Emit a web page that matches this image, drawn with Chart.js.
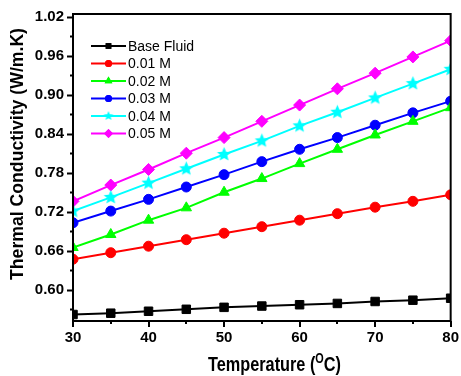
<!DOCTYPE html>
<html>
<head>
<meta charset="utf-8">
<script src="https://cdn.jsdelivr.net/npm/chart.js@4.4.0/dist/chart.umd.min.js"></script>
<style>
html,body{margin:0;padding:0;background:#fff;}
</style>
</head>
<body>
<canvas id="myChart" width="461" height="376"></canvas>
<script>
// temperature (C) on x, thermal conductivity (W/m.K) on y
const temps = [30, 35, 40, 45, 50, 55, 60, 65, 70, 75, 80];
const baseFluid = [0.562, 0.564, 0.567, 0.570, 0.573, 0.575, 0.577, 0.579, 0.582, 0.584, 0.587];
const m001 = [0.647, 0.657, 0.667, 0.677, 0.687, 0.697, 0.707, 0.717, 0.727, 0.736, 0.746];
const m002 = [0.665, 0.685, 0.707, 0.726, 0.750, 0.771, 0.794, 0.816, 0.838, 0.859, 0.880];
const m003 = [0.703, 0.721, 0.739, 0.758, 0.777, 0.797, 0.816, 0.834, 0.853, 0.872, 0.890];
const m004 = [0.721, 0.742, 0.764, 0.786, 0.808, 0.829, 0.852, 0.873, 0.895, 0.917, 0.939];
const m005 = [0.736, 0.761, 0.785, 0.810, 0.834, 0.859, 0.884, 0.909, 0.933, 0.958, 0.983];
const seriesNames = ['Base Fluid', '0.01 M', '0.02 M', '0.03 M', '0.04 M', '0.05 M'];

const yTicks = [0.57, 0.60, 0.63, 0.66, 0.69, 0.72, 0.75, 0.78, 0.81, 0.84, 0.87, 0.90, 0.93, 0.96, 0.99, 1.02];
const yLabels = [0.60, 0.66, 0.72, 0.78, 0.84, 0.90, 0.96, 1.02];
const xTicks = [30, 35, 40, 45, 50, 55, 60, 65, 70, 75, 80];
const xLabels = [30, 40, 50, 60, 70, 80];

const FONT = '"Liberation Sans", Arial, sans-serif';

function makeStar(r, color) {
    const c = document.createElement('canvas');
    const s = Math.ceil(r * 2 + 2);
    c.width = s; c.height = s;
    const g = c.getContext('2d');
    g.fillStyle = color;
    g.beginPath();
    for (let k = 0; k < 10; k++) {
        const rr = k % 2 === 0 ? r : r * 0.45;
        const a = -Math.PI / 2 + k * Math.PI / 5;
        const px = s / 2 + rr * Math.cos(a), py = s / 2 + rr * Math.sin(a);
        if (k === 0) g.moveTo(px, py); else g.lineTo(px, py);
    }
    g.closePath();
    g.fill();
    return c;
}
const starBig = makeStar(7.5, '#00ffff');
const starSmall = makeStar(5, '#00ffff');

function isIn(list, v) {
    return list.some(t => Math.abs(t - v) < 1e-6);
}

function series(label, data, color, style, radius, legendStyle, legendRadius) {
    return {
        label: label,
        data: data.map((v, i) => ({x: temps[i], y: v})),
        borderColor: color,
        backgroundColor: color,
        pointBackgroundColor: color,
        pointBorderColor: color,
        pointBorderWidth: 1,
        pointStyle: style,
        pointRadius: radius,
        pointHoverRadius: radius,
        borderWidth: 2,
        tension: 0,
        clip: 0,
        legendStyle: legendStyle,
        legendRadius: legendRadius
    };
}

const extras = {
    id: 'extras',
    afterDraw(chart) {
        const ctx = chart.ctx;
        const a = chart.chartArea;
        const xs = chart.scales.x, ys = chart.scales.y;
        ctx.save();
        ctx.strokeStyle = '#000';
        ctx.lineWidth = 2;
        ctx.strokeRect(a.left, a.top, a.right - a.left, a.bottom - a.top);
        // ticks, major longer than minor
        ctx.beginPath();
        yTicks.forEach(v => {
            const p = Math.round(ys.getPixelForValue(v)) + 0.5;
            const len = isIn(yLabels, v) ? 6 : 3;
            ctx.moveTo(a.left, p);
            ctx.lineTo(a.left - len, p);
        });
        xTicks.forEach(v => {
            const p = Math.round(xs.getPixelForValue(v));
            const len = isIn(xLabels, v) ? 6 : 3;
            ctx.moveTo(p, a.bottom);
            ctx.lineTo(p, a.bottom + len);
        });
        ctx.stroke();

        // legend inside the plot
        ctx.font = '14px ' + FONT;
        ctx.textBaseline = 'middle';
        ctx.textAlign = 'left';
        chart.data.datasets.forEach((ds, i) => {
            const y = a.top + 32 + i * 17.5;
            const x0 = a.left + 18;
            ctx.strokeStyle = ds.borderColor;
            ctx.lineWidth = 2;
            ctx.beginPath();
            ctx.moveTo(x0, y);
            ctx.lineTo(x0 + 35, y);
            ctx.stroke();
            ctx.fillStyle = ds.borderColor;
            Chart.helpers.drawPoint(ctx, {pointStyle: ds.legendStyle, radius: ds.legendRadius, rotation: 0, borderWidth: 0}, x0 + 17.5, y);
            ctx.fill();
            ctx.fillStyle = '#000';
            ctx.fillText(ds.label, x0 + 37, y + 1);
        });

        // axis titles (the original type is narrow, so squeeze it a bit)
        ctx.fillStyle = '#000';
        ctx.textBaseline = 'alphabetic';
        ctx.font = 'bold 19px ' + FONT;
        const yt = 'Thermal Conductivity (W/m.K)';
        const yw = ctx.measureText(yt).width;
        ctx.save();
        ctx.translate(23, 154);
        ctx.rotate(-Math.PI / 2);
        ctx.scale(252 / yw, 1);
        ctx.textAlign = 'center';
        ctx.fillText(yt, 0, 0);
        ctx.restore();

        const t1 = 'Temperature (', t2 = 'O', t3 = 'C)';
        ctx.font = 'bold 21px ' + FONT;
        const w1 = ctx.measureText(t1).width, w3 = ctx.measureText(t3).width;
        ctx.font = 'bold 14px ' + FONT;
        const w2 = ctx.measureText(t2).width;
        const total = w1 + w2 + w3;
        const k = 133 / total;
        ctx.save();
        ctx.translate(274.5 - 133 / 2, 370.5);
        ctx.scale(k, 1);
        ctx.textAlign = 'left';
        ctx.font = 'bold 21px ' + FONT;
        ctx.fillText(t1, 0, 0);
        ctx.font = 'bold 14px ' + FONT;
        ctx.fillText(t2, w1, -8);
        ctx.font = 'bold 21px ' + FONT;
        ctx.fillText(t3, w1 + w2, 0);
        ctx.restore();
        ctx.restore();
    }
};

const ctx = document.getElementById('myChart');
new Chart(ctx, {
    type: 'line',
    data: {
        labels: temps,
        datasets: [
            series(seriesNames[0], baseFluid, '#000000', 'rect', 6, 'rect', 4),
            series(seriesNames[1], m001, '#ff0000', 'circle', 5, 'circle', 3.5),
            series(seriesNames[2], m002, '#00ff00', 'triangle', 6, 'triangle', 4.5),
            series(seriesNames[3], m003, '#0000ff', 'circle', 5, 'circle', 3.5),
            series(seriesNames[4], m004, '#00ffff', starBig, 7, starSmall, 5),
            series(seriesNames[5], m005, '#ff00ff', 'rectRot', 6, 'rectRot', 4.5)
        ]
    },
    options: {
        responsive: false,
        animation: false,
        devicePixelRatio: 1,
        layout: {padding: {left: 0, top: 14, right: 8, bottom: 0}},
        plugins: {
            legend: {display: false},
            tooltip: {enabled: false},
            title: {display: false}
        },
        scales: {
            x: {
                type: 'linear',
                min: 30,
                max: 80,
                afterBuildTicks: s => { s.ticks = xTicks.map(v => ({value: v})); },
                afterFit: s => { s.height = 55; },
                border: {display: true, color: '#000', width: 2},
                grid: {display: true, drawOnChartArea: false, drawTicks: true, tickLength: 6, tickColor: 'rgba(0,0,0,0)'},
                ticks: {
                    autoSkip: false,
                    maxRotation: 0,
                    padding: 2,
                    color: '#000',
                    font: {family: FONT, size: 15, weight: 'bold'},
                    callback: v => isIn(xLabels, v) ? String(v) : ''
                }
            },
            y: {
                min: 0.552,
                max: 1.024,
                afterBuildTicks: s => { s.ticks = yTicks.map(v => ({value: v})); },
                afterFit: s => { s.width = 73; },
                border: {display: true, color: '#000', width: 2},
                grid: {display: true, drawOnChartArea: false, drawTicks: true, tickLength: 6, tickColor: 'rgba(0,0,0,0)'},
                ticks: {
                    autoSkip: false,
                    padding: 3,
                    color: '#000',
                    font: {family: FONT, size: 15, weight: 'bold'},
                    callback: v => isIn(yLabels, v) ? v.toFixed(2) : ''
                }
            }
        }
    },
    plugins: [extras]
});
</script>
</body>
</html>
